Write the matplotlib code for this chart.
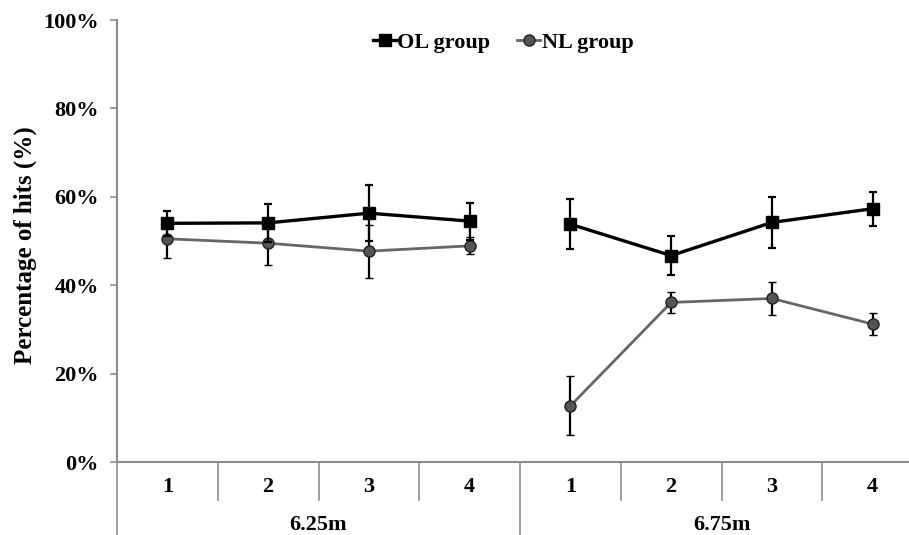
import numpy as np
import matplotlib.pyplot as plt
import matplotlib.transforms as mtransforms
from matplotlib.lines import Line2D

plt.rcParams['font.family'] = ['Liberation Serif', 'DejaVu Serif']
plt.rcParams['font.weight'] = 'bold'

# data (percent of hits), two distances x four blocks
distances = ['6.25m', '6.75m']
blocks = ['1', '2', '3', '4']
ol_625 = [54.0, 54.1, 56.3, 54.5]
ol_625_err = [2.9, 4.3, 6.4, 4.2]
nl_625 = [50.5, 49.5, 47.7, 48.9]
nl_625_err = [4.3, 5.0, 6.0, 1.9]
ol_675 = [53.8, 46.7, 54.2, 57.3]
ol_675_err = [5.6, 4.4, 5.7, 3.8]
nl_675 = [12.7, 36.1, 37.0, 31.2]
nl_675_err = [6.7, 2.4, 3.8, 2.4]

axis_gray = '#8c8c8c'

fig = plt.figure(figsize=(9.09, 5.35), dpi=100)
ax = fig.add_axes([117 / 909, 73 / 535, 806 / 909, 442 / 535])

x1 = np.arange(4)
x2 = np.arange(4) + 4

ol_style = dict(color='black', lw=2.4, marker='s', ms=8, mfc='black', mec='black',
                ecolor='black', elinewidth=1.6, capsize=3, capthick=1.6)
nl_style = dict(color='#666666', lw=2.0, marker='o', ms=8, mfc='#555555', mec='#222222',
                mew=1.0, ecolor='black', elinewidth=1.6, capsize=3, capthick=1.6)

ax.errorbar(x1, ol_625, yerr=ol_625_err, zorder=4, **ol_style)
ax.errorbar(x2, ol_675, yerr=ol_675_err, zorder=4, **ol_style)
ax.errorbar(x1, nl_625, yerr=nl_625_err, zorder=3, **nl_style)
ax.errorbar(x2, nl_675, yerr=nl_675_err, zorder=3, **nl_style)

ax.set_xlim(-0.5, 7.5)
ax.set_ylim(0, 100)
ax.set_yticks(np.arange(0, 101, 20))
ax.set_yticklabels([f'{v}%' for v in range(0, 101, 20)], fontsize=16, fontweight='bold')
ax.tick_params(axis='y', direction='out', length=5, width=1.2, color=axis_gray, pad=8)
ax.set_xticks([])

for s in ['top', 'right']:
    ax.spines[s].set_visible(False)
for s in ['left', 'bottom']:
    ax.spines[s].set_color(axis_gray)
    ax.spines[s].set_linewidth(1.5)

fig.text(25 / 909, 1 - 245 / 535, 'Percentage of hits (%)', rotation=90,
         ha='center', va='center', fontsize=18, fontweight='bold')

# category axis drawn below the plot
trans = mtransforms.blended_transform_factory(ax.transData, ax.transAxes)
short = -38 / 442
long_ = -75 / 442
for b in [0.5, 1.5, 2.5, 4.5, 5.5, 6.5]:
    ax.plot([b, b], [0, short], transform=trans, color=axis_gray, lw=1.2, clip_on=False)
for b in [-0.5, 3.5, 7.5]:
    ax.plot([b, b], [0, long_], transform=trans, color=axis_gray, lw=1.2, clip_on=False)

for i, lab in enumerate(blocks * 2):
    ax.text(i, -25 / 442, lab, transform=trans, ha='center', va='center',
            fontsize=16, fontweight='bold')
for j, d in enumerate(distances):
    ax.text(1.5 + 4 * j, -63 / 442, d, transform=trans, ha='center', va='center',
            fontsize=16, fontweight='bold')

handles = [
    Line2D([], [], color='black', lw=2.4, marker='s', ms=8, mfc='black', mec='black'),
    Line2D([], [], color='#666666', lw=2.0, marker='o', ms=8, mfc='#555555', mec='#222222'),
]
ax.legend(handles, ['OL group', 'NL group'], loc='center', bbox_to_anchor=(0.479, 0.948),
          ncol=2, frameon=False, handlelength=1.05, handletextpad=0.05, columnspacing=1.2,
          prop={'weight': 'bold', 'size': 16})

fig.savefig('out.png', dpi=100)
